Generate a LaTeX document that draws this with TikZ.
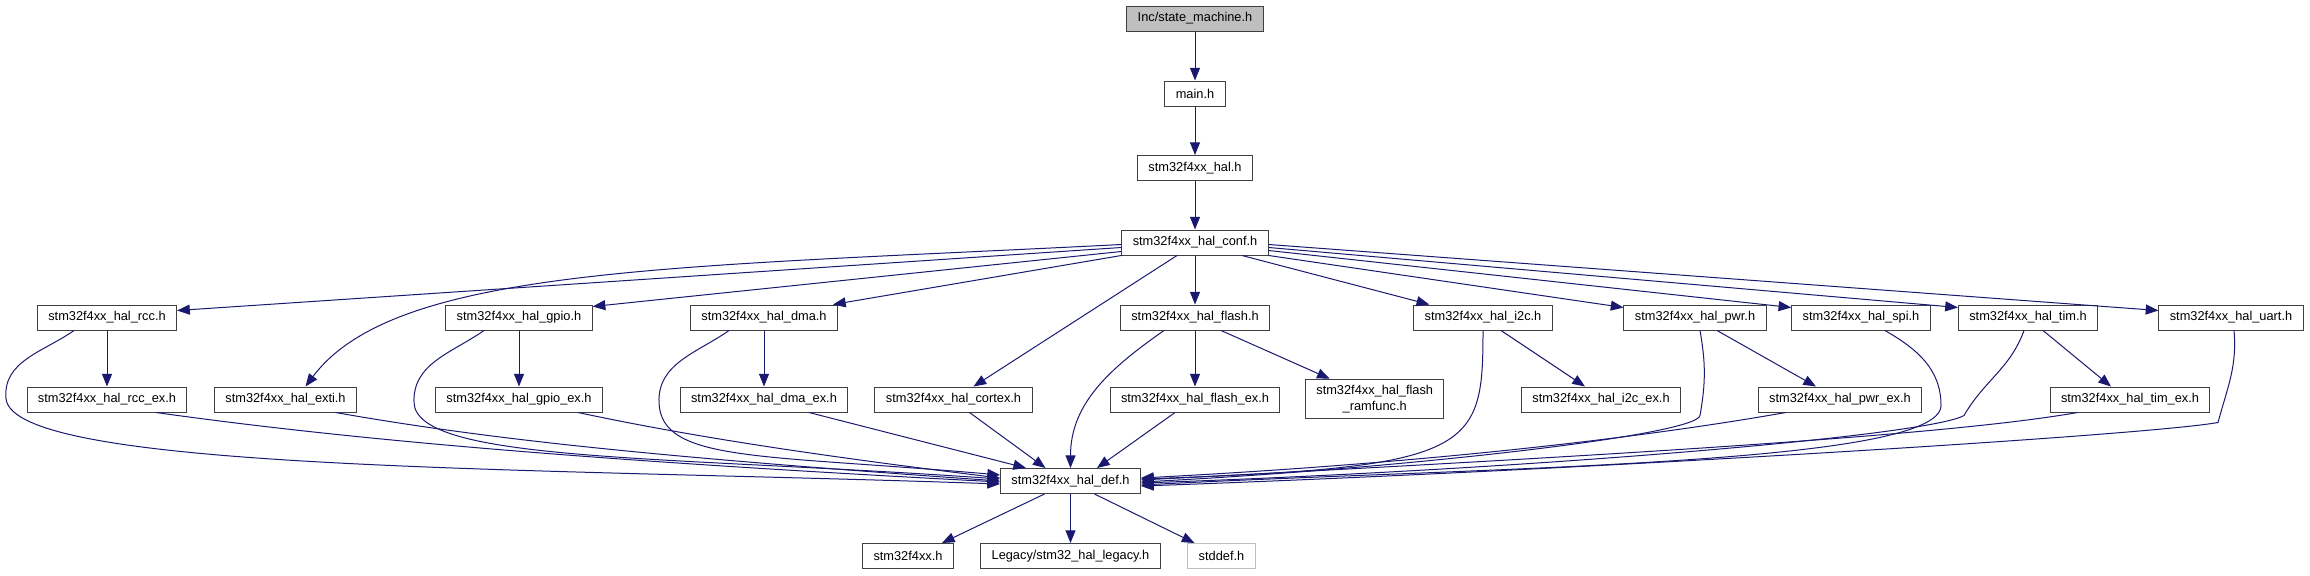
\documentclass[tikz,border=0pt]{standalone}
\usepackage{fontspec}
\setmainfont{Liberation Sans}
\usetikzlibrary{calc,arrows.meta}
\definecolor{edgeblue}{HTML}{191970}
\definecolor{rootgray}{HTML}{BFBFBF}

\begin{document}
\begin{tikzpicture}[
    x=0.75pt, y=0.75pt,
    font=\fontsize{9.6pt}{11.6pt}\selectfont,
    >={Triangle[length=9.5pt, width=7.5pt]},
    filebox/.style={rectangle, draw=black!75, fill=white, line width=0.75pt, minimum height=18.75pt, inner xsep=8.2pt, inner ysep=2pt},
    rootbox/.style={filebox, fill=rootgray},
    sysbox/.style={filebox, draw=rootgray},
    arrowline/.style={->, draw=edgeblue, line width=0.75pt},
]
\useasboundingbox (0,0) rectangle (2310,-575);

% ==================== TOP CHAIN ====================
\node[rootbox] (root) at (1195,-18.5) {Inc/state\_machine.h};
\node[filebox] (main) at (1195,-93.5) {main.h};
\node[filebox] (hal)  at (1195,-168) {stm32f4xx\_hal.h};
\node[filebox] (conf) at (1195,-242.5) {stm32f4xx\_hal\_conf.h};

\draw[arrowline] (root) -- (main);
\draw[arrowline] (main) -- (hal);
\draw[arrowline] (hal) -- (conf);

% ==================== MODULE HEADERS ====================
\node[filebox] (rcc)   at (107,-317.5)  {stm32f4xx\_hal\_rcc.h};
\node[filebox] (gpio)  at (519,-317.5)  {stm32f4xx\_hal\_gpio.h};
\node[filebox] (dma)   at (764,-317.5)  {stm32f4xx\_hal\_dma.h};
\node[filebox] (flash) at (1195,-317.5) {stm32f4xx\_hal\_flash.h};
\node[filebox] (i2c)   at (1483,-317.5) {stm32f4xx\_hal\_i2c.h};
\node[filebox] (pwr)   at (1695,-317.5) {stm32f4xx\_hal\_pwr.h};
\node[filebox] (spi)   at (1861,-317.5) {stm32f4xx\_hal\_spi.h};
\node[filebox] (tim)   at (2028,-317.5) {stm32f4xx\_hal\_tim.h};
\node[filebox] (uart)  at (2231,-317.5) {stm32f4xx\_hal\_uart.h};

% ==================== EXTENSION HEADERS ====================
\node[filebox] (rcc_ex)   at (107,-399.5)  {stm32f4xx\_hal\_rcc\_ex.h};
\node[filebox] (exti)     at (285.5,-399.5) {stm32f4xx\_hal\_exti.h};
\node[filebox] (gpio_ex)  at (519,-399.5)  {stm32f4xx\_hal\_gpio\_ex.h};
\node[filebox] (dma_ex)   at (764,-399.5)  {stm32f4xx\_hal\_dma\_ex.h};
\node[filebox] (cortex)   at (953.5,-399.5) {stm32f4xx\_hal\_cortex.h};
\node[filebox] (flash_ex) at (1195,-399.5) {stm32f4xx\_hal\_flash\_ex.h};
\node[filebox, align=center, inner ysep=4.6pt] (ramfunc) at (1374.7,-399) {stm32f4xx\_hal\_flash\\\_ramfunc.h};
\node[filebox] (i2c_ex)   at (1601,-399.5) {stm32f4xx\_hal\_i2c\_ex.h};
\node[filebox] (pwr_ex)   at (1840,-399.5) {stm32f4xx\_hal\_pwr\_ex.h};
\node[filebox] (tim_ex)   at (2130,-399.5) {stm32f4xx\_hal\_tim\_ex.h};

% ==================== DEF AND BELOW ====================
\node[filebox] (def)    at (1070.5,-481) {stm32f4xx\_hal\_def.h};
\node[filebox] (f4xx)   at (908,-556)    {stm32f4xx.h};
\node[filebox] (legacy) at (1070.5,-556) {Legacy/stm32\_hal\_legacy.h};
\node[sysbox]  (stddef) at (1221.5,-556) {stddef.h};

% conf to the modules
\draw[arrowline] ($(conf.west)+(0,-5)$) -- ($(rcc.east)+(0,7)$);
\draw[arrowline] ($(conf.west)+(0,-2)$) .. controls +(-450,-23) and +(90,120) .. ($(exti.north)+(20,0)$);
\draw[arrowline] ($(conf.west)+(0,-9)$) -- ($(gpio.east)+(0,11)$);
\draw[arrowline] (conf.south west) -- ($(dma.north east)+(-5,0)$);
\draw[arrowline] ($(conf.south)+(-18,0)$) -- ($(cortex.north)+(20,0)$);
\draw[arrowline] (conf) -- (flash);
\draw[arrowline] ($(conf.south)+(47,0)$) -- ($(i2c.north west)+(16,0)$);
\draw[arrowline] (conf.south east) -- ($(pwr.west)+(0,10)$);
\draw[arrowline] ($(conf.east)+(0,-8)$) -- ($(spi.west)+(0,10)$);
\draw[arrowline] ($(conf.east)+(0,-5)$) -- ($(tim.west)+(0,10)$);
\draw[arrowline] ($(conf.east)+(0,-2)$) -- ($(uart.west)+(0,7)$);

% modules to their extensions
\draw[arrowline] (rcc) -- (rcc_ex);
\draw[arrowline] (gpio) -- (gpio_ex);
\draw[arrowline] (dma) -- (dma_ex);
\draw[arrowline] (flash) -- (flash_ex);
\draw[arrowline] ($(flash.south)+(26,0)$) -- ($(ramfunc.north)+(-45,0)$);
\draw[arrowline] ($(i2c.south)+(18,0)$) -- ($(i2c_ex.north)+(-16,0)$);
\draw[arrowline] ($(pwr.south)+(22,0)$) -- ($(pwr_ex.north)+(-24,0)$);
\draw[arrowline] ($(tim.south)+(15,0)$) -- ($(tim_ex.north)+(-19,0)$);

% everything into def, left side
\draw[arrowline] ($(rcc.south)+(-33,0)$) to[out=215, in=95] ++(-68,-68)
    to[out=-85, in=178, out distance=55, in distance=350] ($(def.west)+(0,-3)$);
\draw[arrowline] ($(rcc_ex.south)+(49,0)$) to[out=-8, in=177, out distance=150, in distance=300] ($(def.west)+(0,-1)$);
\draw[arrowline] ($(exti.south)+(50,0)$) to[out=-10, in=176, out distance=120, in distance=250] (def.west);
\draw[arrowline] ($(gpio.south)+(-35,0)$) to[out=215, in=92] ++(-70,-72)
    to[out=-88, in=176, out distance=45, in distance=250] ($(def.west)+(0,2)$);
\draw[arrowline] ($(gpio_ex.south)+(59,0)$) to[out=-12, in=173, out distance=80, in distance=150] ($(def.west)+(0,3)$);
\draw[arrowline] ($(dma.south)+(-35,0)$) to[out=215, in=92] ++(-70,-72)
    to[out=-88, in=175, out distance=45, in distance=180] ($(def.west)+(0,6)$);

% into def, top
\draw[arrowline] ($(dma_ex.south)+(45,0)$) -- ($(def.north west)+(26,0)$);
\draw[arrowline] ($(cortex.south)+(16,0)$) -- ($(def.north)+(-25,0)$);
\draw[arrowline] ($(flash.south)+(-31,0)$) to[out=215, in=90] (def.north);
\draw[arrowline] ($(flash_ex.south)+(-20,0)$) -- ($(def.north east)+(-44,0)$);

% into def, right side
\draw[arrowline] (i2c.south) to[out=-90, in=2, out distance=90, in distance=250] ($(def.east)+(0,2)$);
\draw[arrowline] ($(pwr.south)+(5,0)$) to[out=-80, in=80] ++(0,-85)
    to[out=-100, in=3, out distance=15, in distance=200] ($(def.east)+(0,-1)$);
\draw[arrowline] ($(pwr_ex.south west)+(28,0)$) to[out=190, in=3, out distance=80, in distance=250] ($(def.east)+(0,3)$);
\draw[arrowline] ($(spi.south)+(24,0)$) to[out=-30, in=90] ++(56,-75)
    to[out=-90, in=3, out distance=45, in distance=250] ($(def.east)+(0,-4)$);
\draw[arrowline] ($(tim.south)+(-4,0)$) to[out=-110, in=60] ++(-60,-85)
    to[out=210, in=2, out distance=30, in distance=300] ($(def.east)+(0,-2)$);
\draw[arrowline] ($(tim_ex.south west)+(28,0)$) to[out=190, in=3, out distance=100, in distance=350] ($(def.east)+(0,1)$);
\draw[arrowline] ($(uart.south)+(3,0)$) to[out=-85, in=75] ++(-16,-92)
    to[out=190, in=2, out distance=60, in distance=300] ($(def.east)+(0,-5)$);

% def to its includes
\draw[arrowline] ($(def.south)+(-26,0)$) -- ($(f4xx.north)+(34,0)$);
\draw[arrowline] (def) -- (legacy);
\draw[arrowline] ($(def.south)+(24,0)$) -- ($(stddef.north)+(-27,0)$);

\end{tikzpicture}
\end{document}
